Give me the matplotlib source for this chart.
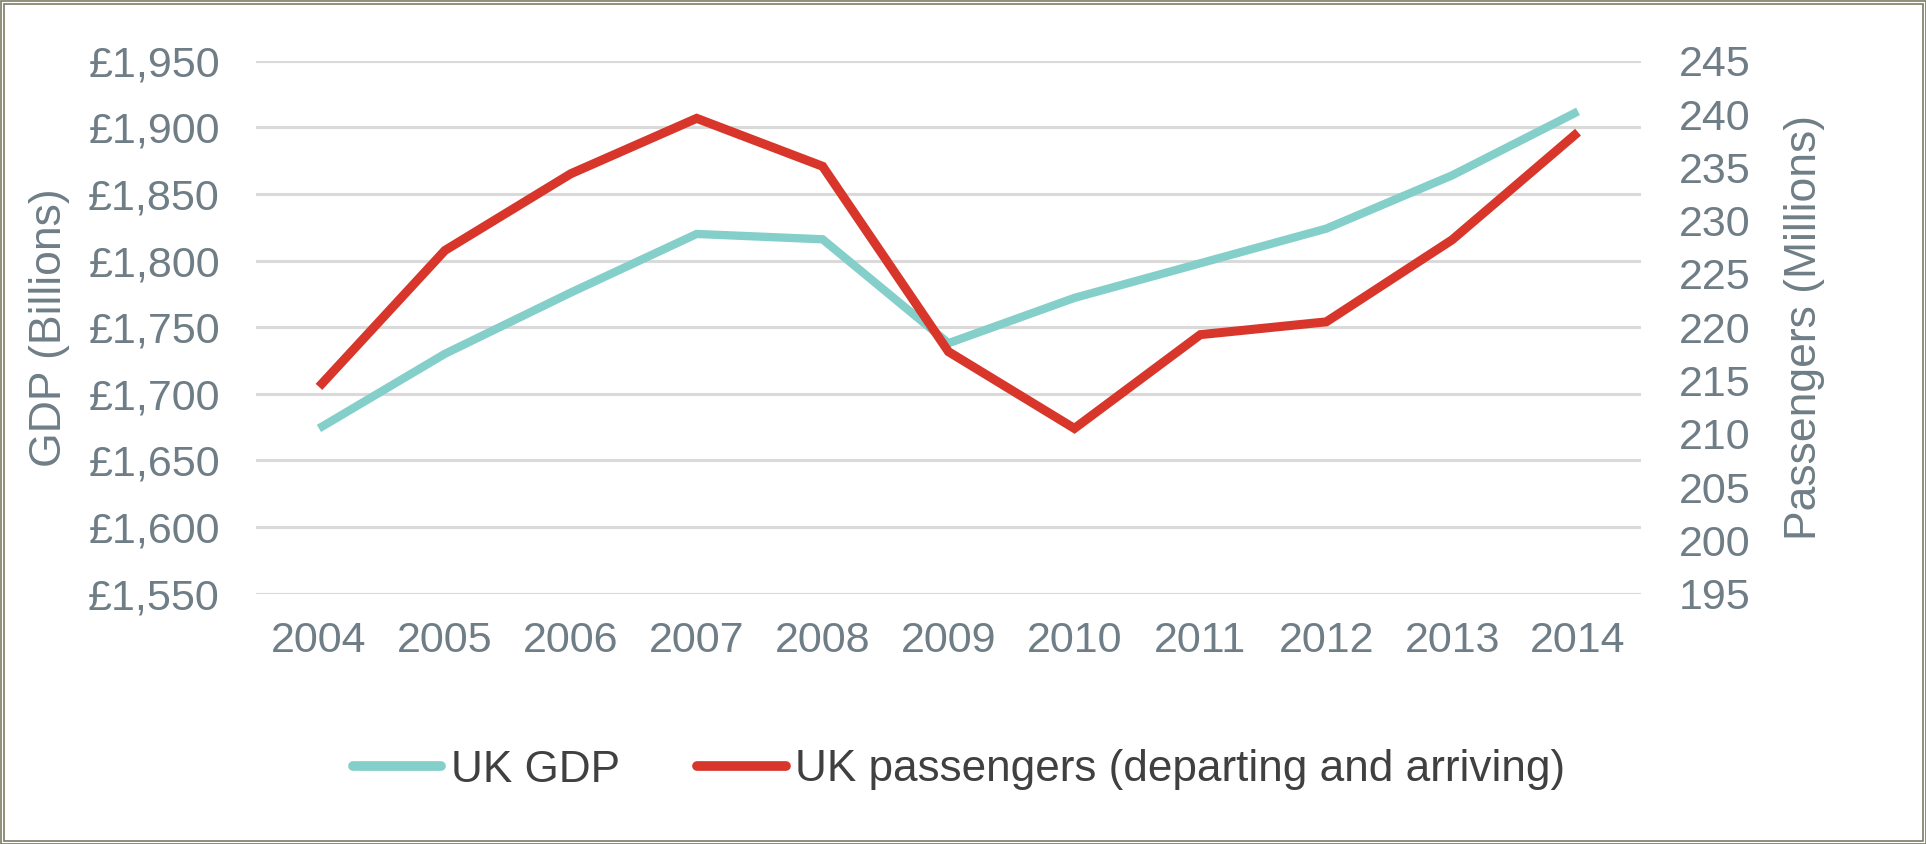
import matplotlib
matplotlib.use("Agg")
import matplotlib.pyplot as plt
from matplotlib.patches import Rectangle
from matplotlib.ticker import FuncFormatter

years = ["2004", "2005", "2006", "2007", "2008", "2009", "2010", "2011", "2012", "2013", "2014"]
gdp = [1674, 1730, 1776, 1820, 1816, 1738, 1772, 1798, 1824, 1864, 1912]
passengers = [214.4, 227.2, 234.4, 239.6, 235.1, 217.7, 210.5, 219.3, 220.5, 228.2, 238.3]
gdp_ticks = [1550, 1600, 1650, 1700, 1750, 1800, 1850, 1900, 1950]
pass_ticks = [195, 200, 205, 210, 215, 220, 225, 230, 235, 240, 245]

plt.rcParams['font.family'] = ['Liberation Sans', 'DejaVu Sans']

W, H = 1926, 844
fig = plt.figure(figsize=(W / 100, H / 100), dpi=100)
fig.patch.set_facecolor('white')

left, right, top, bottom = 256, 1641, 60.8, 593.6
ax = fig.add_axes([left / W, 1 - bottom / H, (right - left) / W, (bottom - top) / H])
ax2 = ax.twinx()

tick_color = '#6f7d86'
teal = '#84cfca'
red = '#d8362b'
fs = 31

x = list(range(len(years)))
l1, = ax.plot(x, gdp, color=teal, lw=6, solid_joinstyle='miter', solid_capstyle='butt', zorder=3,
              label='UK GDP')
l2, = ax2.plot(x, passengers, color=red, lw=6.5, solid_joinstyle='miter', solid_capstyle='butt', zorder=3,
               label='UK passengers (departing and arriving)')

ax.set_xlim(-0.5, len(years) - 0.5)
ax.set_ylim(gdp_ticks[0], gdp_ticks[-1])
ax.set_yticks(gdp_ticks)
ax.yaxis.set_major_formatter(FuncFormatter(lambda v, p: '£{:,.0f}'.format(v)))
ax2.set_ylim(pass_ticks[0], pass_ticks[-1])
ax2.set_yticks(pass_ticks)
ax.set_xticks(x)
ax.set_xticklabels(years)

ax.grid(axis='y', color='#dadada', lw=2.2)
ax.set_axisbelow(True)
for a in (ax, ax2):
    for s in a.spines.values():
        s.set_visible(False)
    a.tick_params(length=0, labelsize=fs, colors=tick_color)
ax.tick_params(axis='y', pad=26)
ax.tick_params(axis='x', pad=20)
ax2.tick_params(axis='y', pad=27)

ax.set_ylabel('GDP (Billions)', fontsize=32, color=tick_color, labelpad=13)
ax2.set_ylabel('Passengers (Millions)', fontsize=32, color=tick_color, labelpad=24)

leg = fig.legend(handles=[l1, l2], loc='center', bbox_to_anchor=(0.498, 1 - 770 / H), ncol=2,
                 frameon=False, fontsize=31.8, handlelength=2.0, handletextpad=0.22, columnspacing=1.75,
                 labelcolor='#404040')
for h in leg.get_lines():
    h.set_linewidth(7)
    h.set_solid_capstyle('round')

fig.patches.append(Rectangle((0.5 / W, 0.5 / H), 1 - 1 / W, 1 - 1 / H, transform=fig.transFigure,
                             fill=False, edgecolor='#7c7c64', lw=1.2))
fig.patches.append(Rectangle((3.5 / W, 3.5 / H), 1 - 7 / W, 1 - 7 / H, transform=fig.transFigure,
                             fill=False, edgecolor='#7c7c64', lw=1.2))

fig.savefig('out.png', dpi=100, facecolor='white')
